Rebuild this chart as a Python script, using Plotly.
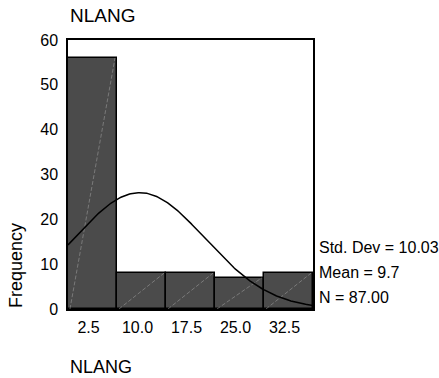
import numpy as np
import plotly.graph_objects as go

# Data
bin_centers = [2.5, 10.0, 17.5, 25.0, 32.5]
tick_labels = ["2.5", "10.0", "17.5", "25.0", "32.5"]
frequencies = [56, 8, 8, 7, 8]
bin_width = 7.5
std_dev = 10.03
mean = 9.7
n_total = 87.00
stats_labels = ["Std. Dev = 10.03", "Mean = 9.7", "N = 87.00"]

x_lo = bin_centers[0] - bin_width / 2
x_hi = bin_centers[-1] + bin_width / 2

fig = go.Figure()
fig.add_trace(go.Bar(
    x=bin_centers, y=frequencies, width=[bin_width] * len(bin_centers),
    marker=dict(color="#4b4b4b", line=dict(color="black", width=1.5)),
    showlegend=False, hoverinfo="skip"))

# faint diagonal hatch line in each bar
for c, f in zip(bin_centers, frequencies):
    fig.add_trace(go.Scatter(
        x=[c - bin_width / 2 + 0.3, c + bin_width / 2 - 0.3], y=[0, f],
        mode="lines", line=dict(color="rgba(170,170,170,0.7)", width=0.7, dash="4px,2px"),
        showlegend=False, hoverinfo="skip"))

# fitted normal curve from the reported statistics
xs = np.linspace(x_lo, x_hi, 200)
ys = n_total * bin_width / (std_dev * np.sqrt(2 * np.pi)) * np.exp(-0.5 * ((xs - mean) / std_dev) ** 2)
fig.add_trace(go.Scatter(x=xs, y=ys, mode="lines", line=dict(color="black", width=1.5),
                         showlegend=False, hoverinfo="skip"))

font = "Liberation Sans, Arial, Helvetica, sans-serif"
fig.update_layout(
    width=439, height=378,
    margin=dict(l=68, r=126, t=40, b=69),
    paper_bgcolor="white", plot_bgcolor="white",
    bargap=0,
    font=dict(family=font, size=16, color="black"),
    xaxis=dict(range=[x_lo, x_hi], tickvals=bin_centers, ticktext=tick_labels,
               showgrid=False, zeroline=False, showline=True, linecolor="black",
               linewidth=1.5, mirror=True, ticks="", ticklabelshift=-4,
               ticklabelstandoff=3, tickfont=dict(size=16)),
    yaxis=dict(range=[0, 60], tickvals=[0, 10, 20, 30, 40, 50, 60],
               showgrid=False, zeroline=False, showline=True, linecolor="black",
               linewidth=1.5, mirror=True, ticks="", ticklabelstandoff=5,
               tickfont=dict(size=16)),
)

fig.add_annotation(text="NLANG", xref="paper", yref="paper", x=0, xanchor="left",
                   y=1, yanchor="bottom", yshift=12, showarrow=False, font=dict(size=19))
fig.add_annotation(text="NLANG", xref="paper", yref="paper", x=0, xanchor="left",
                   y=0, yanchor="middle", yshift=-58, showarrow=False, font=dict(size=18))
fig.add_annotation(text="Frequency", xref="paper", yref="paper", x=0, xanchor="center",
                   xshift=-52, y=0.16, yanchor="middle", textangle=-90, showarrow=False,
                   font=dict(size=18))
for i, s in enumerate(stats_labels):
    fig.add_annotation(text=s, xref="paper", yref="paper", x=1, xanchor="left", xshift=4,
                       y=0, yanchor="middle", yshift=62 - 25 * i, showarrow=False,
                       font=dict(size=16))

fig.write_html("out.html")
